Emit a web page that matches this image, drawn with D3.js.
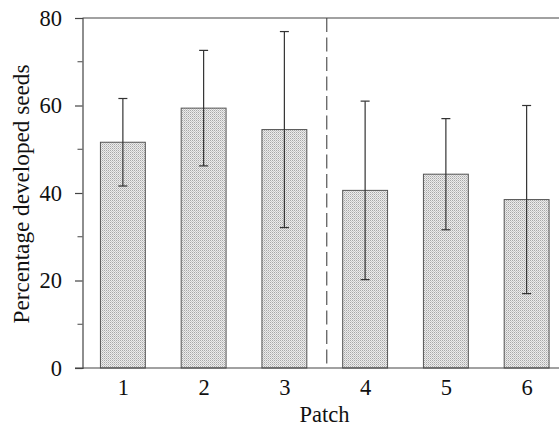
<!DOCTYPE html>
<html>
<head>
<meta charset="utf-8">
<script src="https://cdn.jsdelivr.net/npm/d3@7"></script>
<style>
  html, body { margin: 0; padding: 0; background: #fff; }
  svg { display: block; }
  text { font-family: "Liberation Serif", "Times New Roman", serif; fill: #111; }
</style>
</head>
<body>
<svg id="chart" width="559" height="427"></svg>
<script>
// Mean percentage of developed seeds per patch, with error (±) bars
const patches = [1, 2, 3, 4, 5, 6];
const meanPct = [51.6, 59.4, 54.5, 40.6, 44.3, 38.5];
const errPct  = [10.0, 13.2, 22.4, 20.4, 12.7, 21.5];
const yTicks = [0, 20, 40, 60, 80];
const yMinorTicks = [10, 30, 50, 70];
const dividerAt = 3.5; // boundary between patch groups

const svg = d3.select("#chart");
const plotLeft = 82.5, plotTop = 18, plotBottom = 368;
const fontSize = 22.5;

const x = d3.scaleLinear().domain([0.5, 6.5]).range([plotLeft, 567]);
const y = d3.scaleLinear().domain([0, 80]).range([plotBottom, plotTop]);
const barW = x(1.556) - x(1);

// stippled fill
const defs = svg.append("defs");
const pat = defs.append("pattern")
  .attr("id", "stipple").attr("patternUnits", "userSpaceOnUse")
  .attr("width", 2).attr("height", 2);
pat.append("rect").attr("width", 2).attr("height", 2).attr("fill", "#ececec");
pat.append("rect").attr("x", 0).attr("y", 0).attr("width", 1).attr("height", 1).attr("fill", "#a8a8a8");
pat.append("rect").attr("x", 1).attr("y", 1).attr("width", 1).attr("height", 1).attr("fill", "#c8c8c8");

const data = patches.map((p, i) => ({ p, m: meanPct[i], e: errPct[i] }));

// bars
svg.append("g").selectAll("rect").data(data).join("rect")
  .attr("x", d => x(d.p) - barW / 2)
  .attr("y", d => y(d.m))
  .attr("width", barW)
  .attr("height", d => y(0) - y(d.m))
  .attr("fill", "url(#stipple)")
  .attr("stroke", "#555")
  .attr("stroke-width", 1);

// error bars
const eb = svg.append("g").attr("stroke", "#333").attr("stroke-width", 1.2);
eb.selectAll("line.v").data(data).join("line").attr("class", "v")
  .attr("x1", d => x(d.p)).attr("x2", d => x(d.p))
  .attr("y1", d => y(d.m + d.e)).attr("y2", d => y(d.m - d.e));
eb.selectAll("line.t").data(data).join("line").attr("class", "t")
  .attr("x1", d => x(d.p) - 4.5).attr("x2", d => x(d.p) + 4.5)
  .attr("y1", d => y(d.m + d.e)).attr("y2", d => y(d.m + d.e));
eb.selectAll("line.b").data(data).join("line").attr("class", "b")
  .attr("x1", d => x(d.p) - 4.5).attr("x2", d => x(d.p) + 4.5)
  .attr("y1", d => y(d.m - d.e)).attr("y2", d => y(d.m - d.e));

// divider
svg.append("line")
  .attr("x1", x(dividerAt) + 2).attr("x2", x(dividerAt) + 2)
  .attr("y1", plotTop).attr("y2", plotBottom)
  .attr("stroke", "#555").attr("stroke-width", 1.2)
  .attr("stroke-dasharray", "14,5.5");

// frame: top line, left axis, bottom axis
const axisColor = "#444";
svg.append("line").attr("x1", plotLeft).attr("x2", 559).attr("y1", plotTop).attr("y2", plotTop)
  .attr("stroke", axisColor).attr("stroke-width", 1.2);
svg.append("line").attr("x1", plotLeft - 7.5).attr("x2", 559).attr("y1", plotBottom).attr("y2", plotBottom)
  .attr("stroke", axisColor).attr("stroke-width", 1.2);

const yAxis = d3.axisLeft(y).tickValues(yTicks).tickSize(7.5).tickPadding(13).tickFormat(d3.format("d"));
const gy = svg.append("g").attr("transform", `translate(${plotLeft},0)`).call(yAxis);
gy.select(".domain").attr("stroke", axisColor).attr("stroke-width", 1.2);
gy.selectAll(".tick line").attr("stroke", axisColor).attr("stroke-width", 1.2);
gy.selectAll(".tick text").attr("font-size", fontSize).attr("fill", "#111");

svg.append("g").selectAll("line").data(yMinorTicks).join("line")
  .attr("x1", plotLeft - 5).attr("x2", plotLeft)
  .attr("y1", d => y(d)).attr("y2", d => y(d))
  .attr("stroke", axisColor).attr("stroke-width", 1);

// x tick labels
const xAxis = d3.axisBottom(x).tickValues(patches).tickSize(0).tickPadding(11).tickFormat(d3.format("d"));
const gx = svg.append("g").attr("transform", `translate(0,${plotBottom})`).call(xAxis);
gx.select(".domain").remove();
gx.selectAll(".tick text").attr("font-size", fontSize).attr("fill", "#111");

// axis titles
svg.append("text").attr("x", 324.5).attr("y", 421.5).attr("text-anchor", "middle")
  .attr("font-size", fontSize).text("Patch");
svg.append("text").attr("transform", "translate(29,194) rotate(-90)")
  .attr("text-anchor", "middle").attr("font-size", 23.2).text("Percentage developed seeds");
</script>
</body>
</html>
